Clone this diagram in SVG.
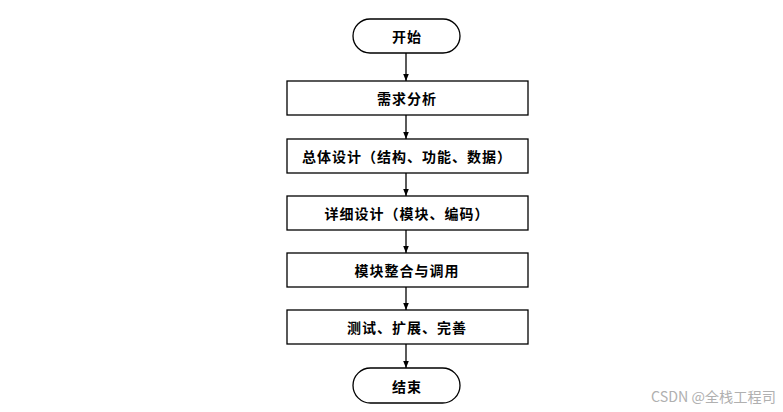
<svg xmlns="http://www.w3.org/2000/svg" width="783" height="412" viewBox="0 0 783 412">
<style>
.box{fill:#fff;stroke:#000;stroke-width:1.3}
.t{font-family:"Noto Sans CJK SC","Noto Sans CJK JP",sans-serif;font-weight:bold;font-size:14px;letter-spacing:1px;text-anchor:middle;dominant-baseline:central;fill:#000}
.c{stroke:#000;stroke-width:1.3;fill:none;marker-end:url(#ah)}
.wm{font-family:"Noto Sans CJK SC",sans-serif;fill:#b0b0b0;font-size:14px}
</style>
<defs>
<marker id="ah" markerWidth="8" markerHeight="8" refX="7" refY="4" orient="auto" markerUnits="userSpaceOnUse">
<path d="M0,1.2 L7,4 L0,6.8 Z" fill="#000"/>
</marker>
</defs>
<rect width="783" height="412" fill="#fff"/>
<g id="connectors">
<line class="c" x1="406" y1="53" x2="406" y2="81"/>
<line class="c" x1="406" y1="115" x2="406" y2="139"/>
<line class="c" x1="406" y1="173" x2="406" y2="196"/>
<line class="c" x1="406" y1="230" x2="406" y2="253"/>
<line class="c" x1="406" y1="287" x2="406" y2="310"/>
<line class="c" x1="406" y1="344" x2="406" y2="368"/>
</g>
<g id="start">
<rect class="box" x="353" y="19" width="107" height="34" rx="17" ry="17"/>
<text class="t" x="407" y="36">开始</text>
</g>
<g id="n1">
<rect class="box" x="287" y="81" width="241" height="34"/>
<text class="t" x="407" y="98">需求分析</text>
</g>
<g id="n2">
<rect class="box" x="287" y="139" width="241" height="34"/>
<text class="t" x="407" y="156">总体设计（结构、功能、数据）</text>
</g>
<g id="n3">
<rect class="box" x="287" y="196" width="241" height="34"/>
<text class="t" x="407" y="213">详细设计（模块、编码）</text>
</g>
<g id="n4">
<rect class="box" x="287" y="253" width="241" height="34"/>
<text class="t" x="407" y="270">模块整合与调用</text>
</g>
<g id="n5">
<rect class="box" x="287" y="310" width="241" height="34"/>
<text class="t" x="407" y="327">测试、扩展、完善</text>
</g>
<g id="end">
<rect class="box" x="353" y="368" width="107" height="35" rx="17.5" ry="17.5"/>
<text class="t" x="407" y="386">结束</text>
</g>
<text class="wm" x="651" y="402" textLength="125" lengthAdjust="spacingAndGlyphs">CSDN @全栈工程司</text>
</svg>
